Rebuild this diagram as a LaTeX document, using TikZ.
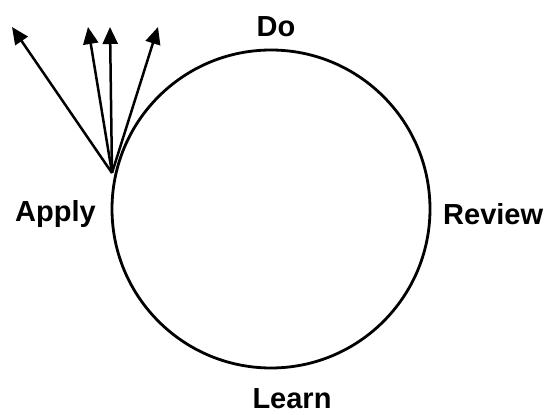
\documentclass[tikz,border=0pt]{standalone}
\usepackage{fontspec}
\setmainfont{Liberation Sans}
\usetikzlibrary{arrows.meta}
\begin{document}
\begin{tikzpicture}[x=1pt,y=1pt,
  lbl/.style={font=\fontsize{29}{32}\selectfont\bfseries, inner sep=0pt},
  ring/.style={circle, draw, line width=2.8pt, minimum size=318pt, inner sep=0pt},
  arr/.style={line width=2.5pt, -{Triangle[length=17pt,width=15pt]}}]
\useasboundingbox (0,0) rectangle (547,415);
\node[ring] (c) at (271,206) {};
\coordinate (o) at (112,242);
\coordinate (t1) at (12,388);
\coordinate (t2) at (88,388);
\coordinate (t3) at (110,388);
\coordinate (t4) at (158,388);
\draw[arr] (o) -- (t1);
\draw[arr] (o) -- (t2);
\draw[arr] (o) -- (t3);
\draw[arr] (o) -- (t4);
\node[lbl] (do) at (276,388) {Do};
\node[lbl, anchor=west] (apply) at (15,201) {Apply};
\node[lbl, anchor=west] (review) at (443,201) {Review};
\node[lbl] (learn) at (292,16) {Learn};
\end{tikzpicture}
\end{document}
